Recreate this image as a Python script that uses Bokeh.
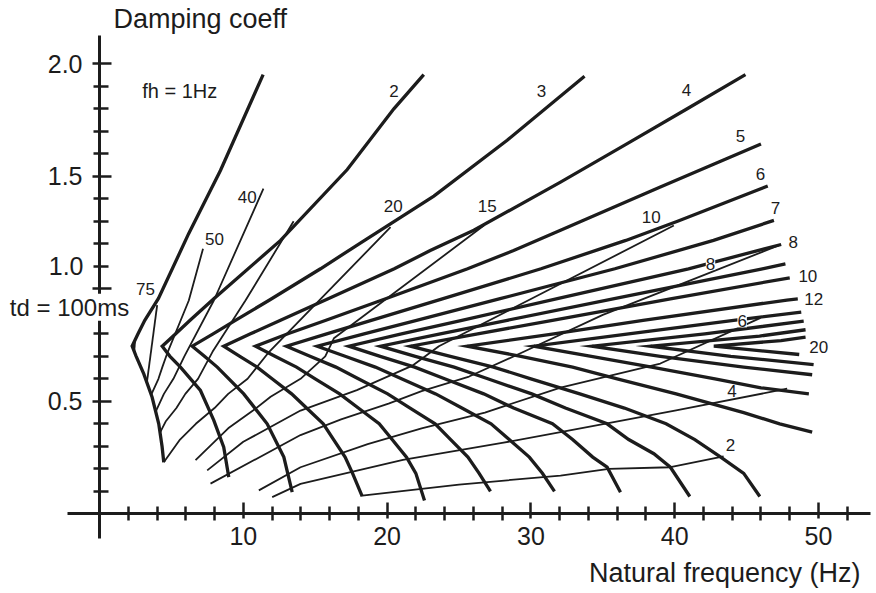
from bokeh.plotting import figure
from bokeh.models import Range1d, FixedTicker, Label, PrintfTickFormatter
from bokeh.embed import file_html
from bokeh.resources import INLINE

FONT = "Liberation Sans"
INK = "#1c1c1c"

# ---- thick curves: constant fh (Hz); x = natural frequency (Hz), y = damping coeff
fh1_f = [4.47, 4.35, 4.12, 3.66, 3.08, 2.55, 2.27, 2.68, 3.15, 4.10, 6.20, 8.41, 11.38]
fh1_z = [0.229, 0.300, 0.400, 0.518, 0.622, 0.700, 0.745, 0.800, 0.860, 0.957, 1.245, 1.526, 1.952]
fh2_f = [8.99, 8.64, 7.95, 7.02, 5.63, 4.90, 4.36, 5.30, 6.30, 7.95, 12.59, 17.23, 20.47, 22.55]
fh2_z = [0.163, 0.296, 0.415, 0.548, 0.652, 0.700, 0.745, 0.800, 0.860, 0.956, 1.215, 1.530, 1.800, 1.952]
fh3_f = [13.40, 12.82, 11.66, 10.03, 8.19, 7.30, 6.45, 7.90, 9.45, 11.77, 15.37, 18.3, 23.25, 28.35, 33.73]
fh3_z = [0.096, 0.252, 0.400, 0.533, 0.652, 0.700, 0.745, 0.800, 0.860, 0.948, 1.089, 1.210, 1.412, 1.660, 1.945]
fh4_f = [18.27, 17.6, 17.08, 16.28, 15.56, 14.4, 13.36, 12.0, 10.96, 9.76, 8.64,
         10.5, 12.59, 15.9, 20.5, 23.0, 26.03, 32.06, 36.7, 40.87, 44.92]
fh4_z = [0.077, 0.180, 0.252, 0.330, 0.400, 0.470, 0.533, 0.600, 0.652, 0.700, 0.745,
         0.800, 0.860, 0.956, 1.089, 1.170, 1.260, 1.474, 1.645, 1.800, 1.952]
fh5_f = [22.6, 22.0, 21.35, 20.35, 19.45, 18.0, 16.7, 15.0, 13.7, 12.2, 10.85,
         13.1, 15.75, 19.9, 25.6, 28.8, 32.06, 39.0, 46.0]
fh5_z = [0.059, 0.180, 0.252, 0.330, 0.400, 0.470, 0.533, 0.600, 0.652, 0.700, 0.745,
         0.800, 0.860, 0.956, 1.089, 1.170, 1.260, 1.452, 1.644]
fh6_f = [27.19, 26.4, 25.62, 24.42, 23.34, 21.6, 20.04, 18.0, 16.44, 14.64, 13.0,
         15.8, 18.9, 23.9, 30.7, 36.6, 40.2, 46.47]
fh6_z = [0.100, 0.180, 0.252, 0.330, 0.400, 0.470, 0.533, 0.600, 0.652, 0.700, 0.745,
         0.800, 0.860, 0.956, 1.089, 1.215, 1.300, 1.457]
fh7_f = [31.64, 30.8, 29.89, 28.49, 27.23, 25.2, 23.38, 21.0, 19.18, 17.08, 15.14,
         18.4, 22.05, 27.86, 35.84, 42.7, 46.9]
fh7_z = [0.100, 0.180, 0.252, 0.330, 0.400, 0.470, 0.533, 0.600, 0.652, 0.700, 0.745,
         0.800, 0.860, 0.956, 1.089, 1.215, 1.304]
fh8_f = [36.23, 35.3, 34.3, 32.9, 31.5, 28.8, 26.72, 24.0, 21.92, 19.52, 17.34,
         21.0, 25.2, 31.84, 40.96, 47.4]
fh8_z = [0.096, 0.207, 0.252, 0.330, 0.400, 0.470, 0.533, 0.600, 0.652, 0.700, 0.745,
         0.800, 0.860, 0.956, 1.089, 1.197]
fh9_f = [41.05, 39.7, 38.55, 36.8, 35.3, 32.4, 30.06, 27.0, 24.66, 21.96, 19.54,
         23.7, 28.35, 35.8, 46.1, 47.7]
fh9_z = [0.077, 0.207, 0.267, 0.330, 0.400, 0.470, 0.533, 0.600, 0.652, 0.700, 0.745,
         0.800, 0.860, 0.956, 1.089, 1.111]
fh10_f = [45.92, 44.8, 43.2, 41.4, 39.4, 36.5, 33.4, 30.0, 27.4, 24.4, 21.63,
          26.3, 31.5, 39.8, 48.0]
fh10_z = [0.077, 0.180, 0.252, 0.330, 0.400, 0.470, 0.533, 0.600, 0.652, 0.700, 0.745,
          0.800, 0.860, 0.956, 1.049]
fh12_f = [49.56, 47.3, 44.8, 40.1, 36.0, 32.9, 29.3, 25.57, 31.6, 37.8, 47.8, 48.56]
fh12_z = [0.363, 0.400, 0.450, 0.533, 0.600, 0.652, 0.700, 0.745, 0.800, 0.860, 0.950, 0.955]
fh14_f = [49.33, 46.0, 42.8, 38.4, 34.2, 30.2, 36.8, 44.1, 48.8]
fh14_z = [0.533, 0.560, 0.600, 0.652, 0.700, 0.745, 0.800, 0.860, 0.896]
fh16_f = [49.56, 44.8, 39.0, 34.26, 42.1, 48.97]
fh16_z = [0.618, 0.652, 0.700, 0.745, 0.800, 0.856]
fh18_f = [49.66, 43.9, 38.32, 45.9, 49.1]
fh18_z = [0.663, 0.700, 0.745, 0.790, 0.818]
fh20_f = [48.66, 42.72, 47.4, 49.1]
fh20_z = [0.708, 0.745, 0.770, 0.785]

fh_curves = [(fh1_f, fh1_z), (fh2_f, fh2_z), (fh3_f, fh3_z), (fh4_f, fh4_z),
             (fh5_f, fh5_z), (fh6_f, fh6_z), (fh7_f, fh7_z), (fh8_f, fh8_z),
             (fh9_f, fh9_z), (fh10_f, fh10_z), (fh12_f, fh12_z), (fh14_f, fh14_z),
             (fh16_f, fh16_z), (fh18_f, fh18_z), (fh20_f, fh20_z)]

# ---- thin curves: constant delay td (ms)
td100_f = [2.47, 2.42]
td100_z = [0.772, 0.722]
td75_f = [4.01, 3.31]
td75_z = [0.927, 0.590]
td50_f = [7.2, 6.21, 4.75, 4.37, 4.1, 3.6]
td50_z = [1.178, 0.948, 0.720, 0.652, 0.600, 0.530]
td40_f = [11.4, 7.95, 5.9, 5.14, 4.48, 3.95]
td40_z = [1.445, 0.948, 0.700, 0.600, 0.533, 0.460]
td30_f = [13.5, 10.15, 7.86, 6.85, 5.97, 5.35, 4.6, 4.2]
td30_z = [1.300, 0.948, 0.720, 0.600, 0.533, 0.470, 0.410, 0.360]
td20_f = [20.24, 11.8, 10.3, 8.95, 8.0, 6.7, 5.6, 4.47]
td20_z = [1.274, 0.720, 0.600, 0.533, 0.470, 0.400, 0.330, 0.229]
td15_f = [26.73, 16.3, 15.7, 13.98, 11.9, 10.7, 8.95, 6.68]
td15_z = [1.281, 0.780, 0.700, 0.600, 0.520, 0.460, 0.380, 0.239]
td10_f = [39.94, 30.0, 23.6, 21.8, 17.9, 13.98, 10.0, 7.49]
td10_z = [1.281, 0.955, 0.745, 0.660, 0.550, 0.459, 0.320, 0.193]
td8_f = [47.4, 40.0, 35.0, 29.5, 25.7, 22.4, 20.1, 16.8, 13.98, 7.72]
td8_z = [1.197, 1.010, 0.884, 0.720, 0.610, 0.545, 0.490, 0.420, 0.350, 0.134]
td6_f = [45.97, 39.0, 32.06, 26.8, 22.4, 18.65, 13.98, 11.08]
td6_z = [0.871, 0.668, 0.561, 0.450, 0.380, 0.310, 0.207, 0.104]
td4_f = [47.82, 40.1, 32.06, 28.0, 21.1, 13.98, 12.01]
td4_z = [0.556, 0.460, 0.363, 0.315, 0.240, 0.133, 0.074]
td2_f = [43.4, 39.71, 35.42, 32.06, 25.0, 18.27]
td2_z = [0.255, 0.207, 0.200, 0.170, 0.130, 0.081]

td_curves = [(td100_f, td100_z), (td75_f, td75_z), (td50_f, td50_z), (td40_f, td40_z),
             (td30_f, td30_z), (td20_f, td20_z), (td15_f, td15_z), (td10_f, td10_z),
             (td8_f, td8_z), (td6_f, td6_z), (td4_f, td4_z), (td2_f, td2_z)]

# ---- curve labels: (text, natural frequency, damping)
fh_label_text = ["2", "3", "4", "5", "6", "7", "8", "10", "12", "20"]
fh_label_f = [20.47, 30.74, 40.82, 44.58, 45.97, 47.0, 48.24, 49.26, 49.67, 50.02]
fh_label_z = [1.881, 1.881, 1.882, 1.677, 1.511, 1.360, 1.209, 1.059, 0.956, 0.740]
td_label_text = ["75", "50", "40", "20", "15", "10", "4", "2"]
td_label_f = [3.20, 8.0, 10.27, 20.42, 26.96, 38.37, 43.99, 43.88]
td_label_z = [1.000, 1.222, 1.410, 1.366, 1.370, 1.321, 0.548, 0.308]
td_inline_text = ["8", "6"]
td_inline_f = [42.49, 44.69]
td_inline_z = [1.110, 0.855]

x_major = [10, 20, 30, 40, 50]
x_minor = [2, 4, 6, 8, 12, 14, 16, 18, 22, 24, 26, 28, 32, 34, 36, 38, 42, 44, 46, 48, 52]
y_major = [0.5, 1.0, 1.5, 2.0]
y_minor = [0.1, 0.2, 0.3, 0.4, 0.6, 0.7, 0.8, 0.9, 1.1, 1.2, 1.3, 1.4, 1.6, 1.7, 1.8, 1.9]

p = figure(width=872, height=589, output_backend="svg", toolbar_location=None, title=None,
           x_range=Range1d(-6.884, 53.755), y_range=Range1d(-0.3364, 2.2813),
           min_border_left=0, min_border_right=0, min_border_top=0, min_border_bottom=0)
p.outline_line_color = None
p.grid.visible = False

for ax in (p.xaxis, p.yaxis):
    ax.fixed_location = 0
    ax.axis_line_width = 3
    ax.axis_line_color = INK
    ax.major_tick_line_width = 2.5
    ax.minor_tick_line_width = 2.5
    ax.major_tick_line_color = INK
    ax.minor_tick_line_color = INK
    ax.major_label_text_font = FONT
    ax.major_label_text_font_size = "25px"
    ax.major_label_text_color = INK

p.xaxis.bounds = (-2.225, 53.62)
p.xaxis.ticker = FixedTicker(ticks=x_major, minor_ticks=x_minor)
p.xaxis.major_tick_in = 11
p.xaxis.major_tick_out = 5
p.xaxis.minor_tick_in = 7
p.xaxis.minor_tick_out = 7
p.xaxis.major_label_standoff = 6

p.yaxis.bounds = (-0.11, 2.126)
p.yaxis.ticker = FixedTicker(ticks=y_major, minor_ticks=y_minor)
p.yaxis.formatter = PrintfTickFormatter(format="%.1f")
p.yaxis.major_tick_in = 12
p.yaxis.major_tick_out = 7
p.yaxis.minor_tick_in = 9
p.yaxis.minor_tick_out = 6
p.yaxis.major_label_standoff = 10
p.yaxis.major_label_overrides = {1.0: ""}

for fx, fz in fh_curves:
    p.line(fx, fz, line_width=3.3, line_color=INK, line_join="miter")
for tx, tz in td_curves:
    p.line(tx, tz, line_width=1.8, line_color=INK, line_join="round")

def lab(text, x, y, size, align="center", bg=None):
    p.add_layout(Label(x=x, y=y, text=text, text_font=FONT, text_font_size=size,
                       text_color=INK, text_align=align, text_baseline="middle",
                       background_fill_color=bg))

for t, x, y in zip(fh_label_text, fh_label_f, fh_label_z):
    lab(t, x, y, "17px")
for t, x, y in zip(td_label_text, td_label_f, td_label_z):
    lab(t, x, y, "17px")
for t, x, y in zip(td_inline_text, td_inline_f, td_inline_z):
    lab(t, x, y, "17px", bg="white")

lab("fh = 1Hz", 2.97, 1.877, "20px", align="left")
lab("td = 100ms", -2.086, 0.918, "24px", bg="white")
lab("1.0", -1.113, 1.10, "25px", align="right")
lab("Damping coeff", 0.974, 2.198, "27px", align="left")
lab("Natural frequency (Hz)", 52.92, -0.265, "27px", align="right")

open("out.html", "w").write(file_html(p, INLINE))
